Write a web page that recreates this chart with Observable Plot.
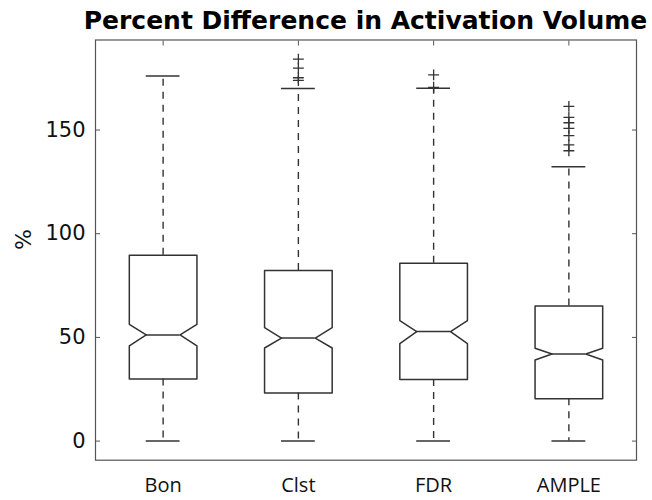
<!DOCTYPE html>
<html><head><meta charset="utf-8">
<script src="https://cdn.jsdelivr.net/npm/d3@7"></script>
<script src="https://cdn.jsdelivr.net/npm/@observablehq/plot@0.6"></script>
<style>
body{margin:0;background:#fff;}
#title{font-family:"DejaVu Sans";font-weight:bold;font-size:25px;height:36px;line-height:41px;width:573px;padding-left:79px;text-align:center;white-space:nowrap;color:#000;overflow:visible;}
#chart svg{display:block;}
</style></head><body>
<div id="title">Percent Difference in Activation Volume</div>
<div id="chart"></div>
<script>
const categories = ["Bon", "Clst", "FDR", "AMPLE"];
const lowerWhisker = [0, 0, 0, 0];
const q1 = [30.0, 23.2, 29.7, 20.4];
const notchLow = [45.9, 44.9, 47.0, 39.1];
const median = [51.2, 49.7, 52.8, 42.0];
const notchHigh = [56.3, 54.7, 58.1, 44.8];
const q3 = [89.6, 82.3, 85.8, 65.1];
const upperWhisker = [176.1, 170.0, 170.2, 132.3];
const outliersBon = [];
const outliersClst = [173.9, 175.2, 179.8, 184.2];
const outliersFDR = [170.6, 176.6];
const outliersAMPLE = [140.0, 142.8, 147.3, 150.8, 153.5, 156.1, 161.4];
const yTicks = [0, 50, 100, 150];

const outliers = [outliersBon, outliersClst, outliersFDR, outliersAMPLE];
const boxes = categories.map((c, i) => ({
  c, x: i + 1, lo: lowerWhisker[i], q1: q1[i], nl: notchLow[i], med: median[i],
  nh: notchHigh[i], q3: q3[i], hi: upperWhisker[i]
}));
const hw = 0.25, nw = 0.125, cw = 0.125;
const poly = boxes.flatMap(b => [
  [b.x - hw, b.q1], [b.x + hw, b.q1], [b.x + hw, b.nl], [b.x + nw, b.med], [b.x + hw, b.nh],
  [b.x + hw, b.q3], [b.x - hw, b.q3], [b.x - hw, b.nh], [b.x - nw, b.med], [b.x - hw, b.nl],
  [b.x - hw, b.q1]
].map(([x, y]) => ({c: b.c, x, y})));
const outlierPts = outliers.flatMap((arr, i) => arr.map(v => ({x: i + 1, y: v})));

const allVals = [...lowerWhisker, ...upperWhisker, ...outliers.flat()];
const dMin = d3.min(allVals), dMax = d3.max(allVals);
const pad = 0.05 * (dMax - dMin);

const lineColor = "#333";
const chart = Plot.plot({
  width: 652, height: 464,
  marginLeft: 95, marginRight: 16, marginTop: 3.5, marginBottom: 40.3,
  style: {fontFamily: "DejaVu Sans", color: "#111", background: "#fff"},
  x: {type: "linear", domain: [0.5, 4.5]},
  y: {domain: [dMin - pad, dMax + pad]},
  marks: [
    Plot.ruleX(boxes, {x: "x", y1: "q3", y2: "hi", stroke: lineColor, strokeWidth: 1.4, strokeDasharray: "7,6"}),
    Plot.ruleX(boxes, {x: "x", y1: "q1", y2: "lo", stroke: lineColor, strokeWidth: 1.4, strokeDasharray: "7,6"}),
    Plot.ruleY(boxes, {y: "hi", x1: d => d.x - cw, x2: d => d.x + cw, stroke: lineColor, strokeWidth: 1.5}),
    Plot.ruleY(boxes, {y: "lo", x1: d => d.x - cw, x2: d => d.x + cw, stroke: lineColor, strokeWidth: 1.5}),
    Plot.line(poly, {x: "x", y: "y", z: "c", stroke: lineColor, strokeWidth: 1.5}),
    Plot.ruleY(boxes, {y: "med", x1: d => d.x - nw, x2: d => d.x + nw, stroke: lineColor, strokeWidth: 1.5}),
    Plot.dot(outlierPts, {x: "x", y: "y", symbol: "plus", r: 3.6, stroke: lineColor, strokeWidth: 1.3}),
    Plot.frame({stroke: "#555", strokeWidth: 1.2}),
    Plot.axisY(yTicks, {anchor: "left", tickSize: 0, tickPadding: 10, fontSize: 21, fontFamily: "DejaVu Sans", label: null}),
    Plot.axisY(yTicks, {anchor: "left", tickSize: -5, tickFormat: () => "", label: null, stroke: "#555"}),
    Plot.axisY(yTicks, {anchor: "right", tickSize: -5, tickFormat: () => "", label: null, stroke: "#555"}),
    Plot.axisX([1, 2, 3, 4], {anchor: "top", tickSize: -5, tickFormat: () => "", label: null, stroke: "#555"}),
    Plot.axisX([1, 2, 3, 4], {anchor: "bottom", tickSize: 0, tickPadding: 18, tickFormat: i => categories[i - 1], fontSize: 20, fontFamily: "Open Sans", label: null}),
    Plot.text(["%"], {frameAnchor: "left", dx: -72, rotate: -90, fontSize: 22, fontFamily: "DejaVu Sans", fill: "#111"})
  ]
});
document.getElementById("chart").appendChild(chart);
</script>
</body></html>
